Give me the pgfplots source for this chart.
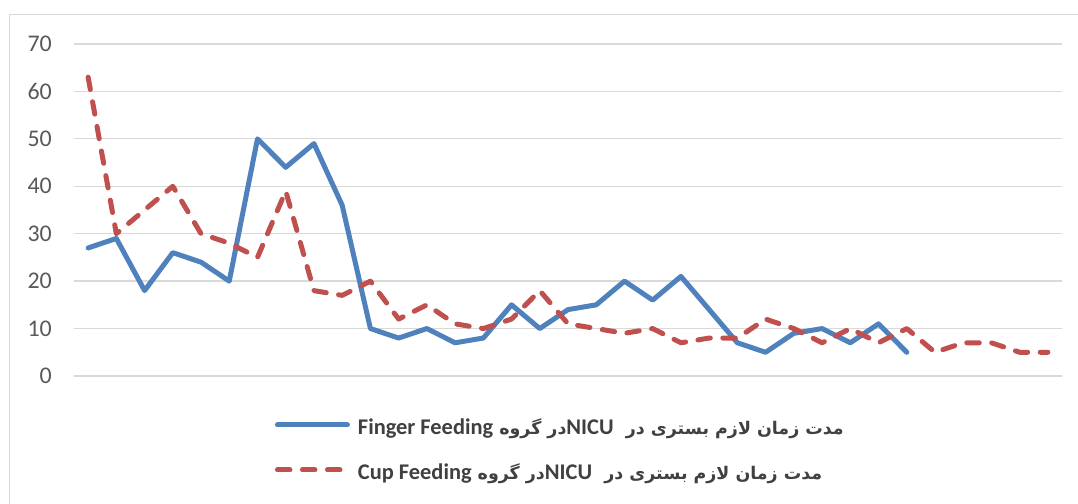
\documentclass[border=0pt]{standalone}
\usepackage{pgfplots}
\pgfplotsset{compat=1.18}
\usepackage{fontspec}
\setmainfont{Carlito}
\newfontfamily\arabicfont[Script=Arabic]{DejaVu Sans}
\TeXXeTstate=1
\definecolor{fblue}{HTML}{4F81BD}
\definecolor{cred}{HTML}{C0504D}
\definecolor{gridgray}{HTML}{D9D9D9}
\definecolor{ticklab}{HTML}{595959}
\definecolor{legtext}{HTML}{404040}
\newcommand\legtext[1]{{\arabicfont\bfseries\fontsize{17.5}{20}\selectfont\beginR مدت زمان لازم بستری در\ \ {\rmfamily\bfseries\fontsize{22.5}{24}\selectfont NICU}در گروه \beginL{\rmfamily\bfseries\fontsize{22.5}{24}\selectfont #1}\endL\endR}}

\begin{document}
\begin{tikzpicture}[x=1bp,y=1bp]
\path[use as bounding box] (0,0) rectangle (1078,504);
\draw[color=gridgray, line width=1.3bp] (9.5,-20) rectangle (1100,489.5);
\begin{axis}[
  at={(74bp,128bp)}, anchor=south west,
  scale only axis, width=988bp, height=332bp,
  xmin=0.5, xmax=35.5, ymin=0, ymax=70,
  ytick={0,10,...,70}, xtick=\empty,
  axis lines=left, axis line style={draw=none},
  ymajorgrids, grid style={color=gridgray, line width=1.3bp},
  major tick length=0pt,
  tick label style={font=\fontsize{24}{28}\selectfont, color=ticklab},
  yticklabel style={inner sep=0pt, xshift=-22bp},
  /pgf/number format/assume math mode=true,
  clip=false,
  legend cell align=left,
  legend image code/.code={\draw[#1] (0bp,6bp) -- (70bp,6bp);},
  legend style={draw=none, fill=none, at={(0.2034,-0.2334)}, anchor=west,
    inner sep=0pt, outer sep=0pt, row sep=25bp, text=legtext,
    nodes={inner sep=0pt, text height=14bp, text depth=6bp},
    /tikz/every odd column/.append style={column sep=8bp}},
]
\addplot[color=fblue, line width=5bp, line join=round, line cap=round] coordinates {
(1,27)(2,29)(3,18)(4,26)(5,24)(6,20)(7,50)(8,44)(9,49)(10,36)
(11,10)(12,8)(13,10)(14,7)(15,8)(16,15)(17,10)(18,14)(19,15)(20,20)
(21,16)(22,21)(23,14)(24,7)(25,5)(26,9)(27,10)(28,7)(29,11)(30,5)};
\addlegendentry{\legtext{Finger Feeding}}
\addplot[color=cred, line width=5bp, line join=round, line cap=round, dash pattern=on 12.5bp off 12.5bp] coordinates {
(1,63)(2,30)(3,35)(4,40)(5,30)(6,28)(7,25)(8,39)(9,18)(10,17)
(11,20)(12,12)(13,15)(14,11)(15,10)(16,12)(17,18)(18,11)(19,10)(20,9)
(21,10)(22,7)(23,8)(24,8)(25,12)(26,10)(27,7)(28,10)(29,7)(30,10)
(31,5)(32,7)(33,7)(34,5)(35,5)};
\addlegendentry{\legtext{Cup Feeding}}
\end{axis}
\end{tikzpicture}
\end{document}
